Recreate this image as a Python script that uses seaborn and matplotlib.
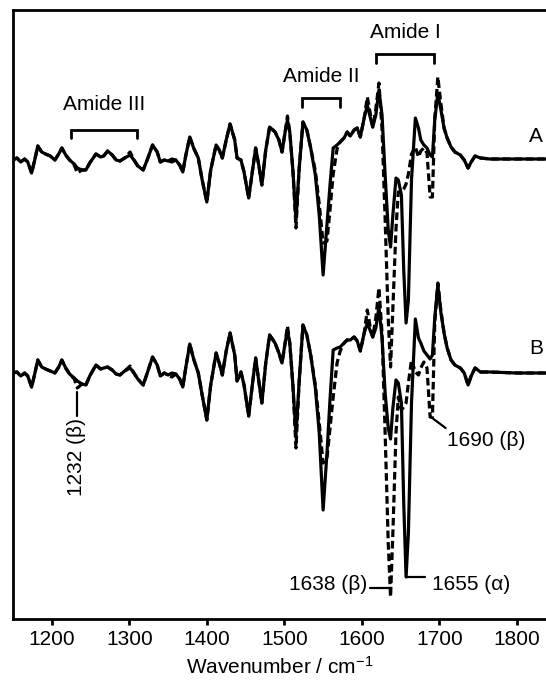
import numpy as np
import pandas as pd
import matplotlib
matplotlib.use("Agg")
import matplotlib.pyplot as plt
import seaborn as sns

# ---------------- data (difference spectra, arbitrary units) ----------------
wavenumber = [1150, 1155, 1160, 1165, 1169, 1174, 1178, 1182, 1187, 1192, 1198, 1204, 1209, 1213,
              1218, 1223, 1229, 1233, 1239, 1244, 1249, 1257, 1263, 1267, 1272, 1278, 1283, 1288,
              1294, 1301, 1306, 1311, 1318, 1324, 1330, 1336, 1340, 1345, 1350, 1355, 1360, 1365,
              1369, 1373, 1378, 1383, 1389, 1394, 1400, 1405, 1412, 1416, 1420, 1425, 1430, 1436,
              1439, 1444, 1448, 1454, 1459, 1463, 1467, 1471, 1476, 1481, 1488, 1493, 1497, 1501,
              1504, 1507, 1511, 1515, 1519, 1524, 1529, 1534, 1540, 1545, 1550, 1555, 1559, 1563,
              1568, 1572, 1577, 1581, 1585, 1590, 1594, 1598, 1603, 1607, 1611, 1614, 1618, 1622,
              1626, 1630, 1634, 1637, 1640, 1644, 1647, 1651, 1654, 1657, 1660, 1664, 1669, 1673,
              1676, 1680, 1684, 1688, 1691, 1694, 1698, 1702, 1706, 1710, 1715, 1720, 1727, 1732,
              1737, 1741, 1746, 1753, 1765, 1800, 1840]

A_solid = [-1, 1, -3, 0, -3, -14, -1, 13, 7, 5, 3, -1, 5, 11,
           4, -1, -5, -9, -11, -11, -4, 5, 2, 3, 8, 4, -1, -2,
           1, 4, -1, -7, -11, 1, 14, 7, -3, -1, -2, 0, -1, -6,
           -13, 4, 22, 11, 1, -21, -43, -11, 14, 9, 1, 19, 35, 19,
           1, -1, -13, -39, -11, 11, -6, -26, 9, 32, 27, 19, 7, 27,
           39, 27, -11, -61, -11, 37, 29, 11, -16, -56, -116, -65, -25, 11,
           14, 17, 21, 27, 23, 29, 31, 22, 41, 54, 41, 32, 44, 69,
           44, -16, -71, -88, -56, -19, -21, -36, -111, -164, -141, -21, 41, 31,
           19, 14, 11, 4, 2, 39, 66, 49, 31, 21, 12, 7, 4, -1,
           -9, -3, 3, 1, 0, 0, 0]

A_dashed = [-1, 1, -3, 0, -3, -14, -1, 13, 7, 5, 3, -1, 5, 11,
            4, -1, -6, -14, -11, -11, -4, 5, 2, 3, 8, 4, -1, -2,
            1, 7, -1, -7, -11, 1, 14, 7, -3, -1, -2, -3, -1, -6,
            -13, 4, 22, 11, 1, -21, -43, -11, 14, 9, 1, 19, 35, 19,
            1, -1, -13, -39, -11, 11, -6, -26, 9, 32, 27, 19, 7, 27,
            43, 27, -11, -69, -11, 37, 29, 11, -12, -45, -84, -82, -50, -15,
            10, 17, 21, 27, 23, 29, 31, 22, 41, 62, 45, 32, 50, 76,
            30, -60, -160, -208, -150, -70, -33, -33, -30, -25, -15, 5, 12, 2,
            8, 11, 6, -38, -38, 40, 82, 55, 31, 21, 12, 7, 4, -1,
            -9, -3, 3, 1, 0, 0, 0]

B_solid = [0, 1, -3, 0, -3, -14, -1, 13, 6, 4, 2, 0, 6, 13,
           5, -1, -5, -8, -11, -12, -3, 8, 4, 5, 6, 3, -1, -2,
           2, 5, 0, -6, -12, 2, 16, 8, -3, 0, -2, 0, -1, -6,
           -14, 6, 29, 14, 0, -22, -47, -12, 20, 10, -2, 22, 40, 18,
           -8, 1, -12, -43, -10, 15, -8, -30, 10, 38, 30, 20, 10, 30,
           43, 30, -12, -62, -10, 48, 38, 18, -15, -60, -137, -80, -25, 23,
           25, 26, 30, 33, 33, 36, 32, 22, 40, 50, 42, 36, 45, 66,
           35, -20, -55, -66, -35, -7, -10, -30, -130, -204, -160, -30, 54, 35,
           30, 22, 18, 14, 18, 55, 88, 60, 40, 25, 13, 8, 5, 0,
           -12, -3, 5, 1, 1, 0, 0]

B_dashed = [0, 1, -3, 0, -3, -14, -1, 13, 6, 4, 2, 0, 6, 13,
            5, -1, -6, -15, -11, -12, -3, 8, 4, 5, 6, 3, -1, -2,
            2, 7, 0, -6, -12, 2, 16, 8, -3, 0, -2, -4, -1, -6,
            -14, 6, 29, 14, 0, -22, -47, -12, 20, 10, -2, 22, 40, 18,
            -8, 1, -12, -43, -10, 15, -8, -30, 10, 38, 30, 20, 10, 30,
            47, 30, -12, -75, -10, 48, 38, 18, -12, -50, -90, -85, -55, -24,
            10, 22, 30, 33, 33, 36, 32, 22, 40, 63, 45, 36, 55, 85,
            40, -60, -170, -224, -160, -60, -24, -37, -34, -30, -10, 13, 1, -2,
            5, 11, 5, -44, -44, 50, 90, 62, 40, 25, 13, 8, 5, 0,
            -12, -3, 5, 1, 1, 0, 0]

trace_offset = {"A": 0, "B": -214}
xticks = [1200, 1300, 1400, 1500, 1600, 1700, 1800]

# ---------------- style ----------------
sns.set_style("ticks")
plt.rcParams["font.family"] = ["Liberation Sans", "DejaVu Sans"]
plt.rcParams["mathtext.fontset"] = "custom"
plt.rcParams["mathtext.rm"] = "Liberation Sans"
plt.rcParams["mathtext.it"] = "Liberation Sans:italic"
plt.rcParams["text.color"] = "black"
plt.rcParams["axes.labelcolor"] = "black"
plt.rcParams["xtick.color"] = "black"
plt.rcParams["xtick.labelcolor"] = "black"

fig = plt.figure(figsize=(5.46, 6.81), dpi=100)
ax = fig.add_axes([13 / 546, 62 / 681, 1 - 13 / 546, 609 / 681])

LW = 2.3
for name, sol, das in [("A", A_solid, A_dashed), ("B", B_solid, B_dashed)]:
    off = trace_offset[name]
    df = pd.DataFrame({"wn": wavenumber,
                       "solid": np.array(sol) + off,
                       "dashed": np.array(das) + off})
    sns.lineplot(data=df, x="wn", y="dashed", ax=ax, color="black", lw=LW,
                 linestyle="--", sort=False)
    ax.lines[-1].set_dashes((2.4, 1.2))
    ax.lines[-1].set_solid_joinstyle("round")
    ax.lines[-1].set_dash_joinstyle("round")
    sns.lineplot(data=df, x="wn", y="solid", ax=ax, color="black", lw=LW, sort=False)
    ax.lines[-1].set_solid_joinstyle("round")
    ax.lines[-1].set_solid_capstyle("round")

ax.set_xlim(1150, 1837.5)
ax.set_ylim(-460, 149)
ax.set_yticks([])
ax.set_ylabel("")
ax.set_xticks(xticks)
ax.set_xticklabels([str(t) for t in xticks])
ax.set_xlabel("Wavenumber / cm$^{-1}$", fontsize=15, labelpad=5, color="black")
ax.tick_params(axis="x", direction="out", length=4, width=2, labelsize=15, pad=4,
               colors="black")
for s in ["left", "top", "bottom"]:
    ax.spines[s].set_linewidth(2)
    ax.spines[s].set_color("black")
ax.spines["right"].set_visible(False)

FS = 15
# amide brackets
def bracket(x0, x1, ytop, ybot, label, ylab):
    ax.plot([x0, x0, x1, x1], [ybot, ytop, ytop, ybot], color="black", lw=2,
            solid_joinstyle="miter")
    ax.text((x0 + x1) / 2, ylab, label, ha="center", va="center", fontsize=FS,
            color="black")

bracket(1225, 1310, 29, 21, "Amide III", 54)
bracket(1523, 1572, 61, 52, "Amide II", 83)
bracket(1618, 1693, 105, 96, "Amide I", 126)

ax.text(1816, 22, "A", ha="left", va="center", fontsize=FS, color="black")
ax.text(1816, -189, "B", ha="left", va="center", fontsize=FS, color="black")

# band assignments
ax.plot([1233, 1233], [-233, -257], color="black", lw=1.6)
ax.text(1232.5, -298, "1232 (\u03b2)", rotation=90, ha="center", va="center",
        fontsize=FS, color="black")

ax.plot([1689, 1708], [-258, -269], color="black", lw=1.6)
ax.text(1710, -281, "1690 (\u03b2)", ha="left", va="center", fontsize=FS, color="black")

ax.plot([1610, 1637.5], [-429, -429], color="black", lw=1.6)
ax.text(1607, -425, "1638 (\u03b2)", ha="right", va="center", fontsize=FS, color="black")

ax.plot([1658, 1681], [-418, -418], color="black", lw=1.6)
ax.text(1690.5, -425, "1655 (\u03b1)", ha="left", va="center", fontsize=FS, color="black")

fig.savefig("out.png", dpi=100)
